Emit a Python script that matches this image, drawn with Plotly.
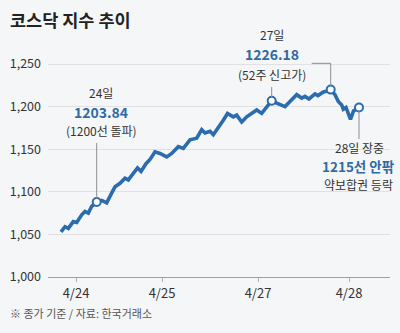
import plotly.graph_objects as go

# x position along the session axis (arbitrary units)
x_pos = [13, 17, 20.3, 25.3, 28.7, 33.7, 37, 40.3, 43.7, 48.7, 53.7, 58.7, 63, 67, 72, 77, 80.3,
         85, 89.5, 93, 98, 102, 107, 112, 118.7, 123.7, 130.3, 135.3, 142, 148.7, 153.7, 157,
         162, 165.3, 170.3, 175.3, 179.5, 185.3, 188.7, 193.7, 198.7, 205.3, 208.7, 213.7,
         218.7, 223.7, 228.7, 237, 242, 248.7, 253.7, 257, 261, 267, 270, 275, 278, 282.7,
         287, 290.3, 293.7, 295.3, 298, 300.3, 302.5, 305.5, 311]
kosdaq = [1053, 1059, 1057, 1065, 1064, 1073, 1077, 1075, 1083, 1088, 1090, 1087, 1097,
          1106, 1110, 1116, 1114, 1122, 1128, 1124, 1133, 1138, 1147, 1145, 1141, 1145, 1153,
          1151, 1161, 1163, 1173, 1169, 1171, 1167, 1175, 1184, 1192, 1188, 1190, 1182, 1188,
          1194, 1196, 1192, 1200, 1207, 1204, 1200, 1206, 1214, 1210, 1212, 1209, 1215, 1213,
          1217, 1218, 1220, 1214, 1206, 1202, 1197, 1199, 1193, 1185, 1195, 1199]
highlight_idx = [9, 45, 57, 66]
tick_pos = [28, 114, 210, 301]
tick_text = ["4/24", "4/25", "4/27", "4/28"]
y_ticks = [1000, 1050, 1100, 1150, 1200, 1250]

BLUE = "#2b6cae"
TXT_BLUE = "#2f6aa5"
DARK = "#333333"
FONT = "Noto Sans CJK KR"

fig = go.Figure()
fig.add_trace(go.Scatter(x=x_pos, y=kosdaq, mode="lines",
                         line=dict(color=BLUE, width=3.6), hoverinfo="skip"))
fig.add_trace(go.Scatter(x=[x_pos[i] for i in highlight_idx],
                         y=[kosdaq[i] for i in highlight_idx], mode="markers",
                         marker=dict(size=8, color="white", line=dict(color=BLUE, width=2)),
                         hoverinfo="skip"))

def pv(py):
    # convert a layout pixel height to value units for connector ends
    return 1000 + (277 - py) / 0.852

xa, xb, xc, xd = [x_pos[i] for i in highlight_idx]
ya, yb, yc, yd = [kosdaq[i] for i in highlight_idx]
LC = "#8a8f96"
shapes = [
    dict(type="line", x0=xa, x1=xa, y0=ya + 4, y1=pv(143), line=dict(color=LC, width=1)),
    dict(type="line", x0=xb, x1=xb, y0=yb + 4, y1=pv(87), line=dict(color=LC, width=1)),
    dict(type="path", path=f"M {263.7},{pv(63.3)} L {xc},{pv(63.3)} L {xc},{yc + 4}",
         line=dict(color=LC, width=1)),
    dict(type="line", x0=xd, x1=xd, y0=yd - 4, y1=pv(139), line=dict(color=LC, width=1)),
]

# paper spans pixels 47..277 vertically, 48..390 horizontally
def px2paper(px, py):
    return (px - 48) / 342, (277 - py) / 230

anns = []
def lab(x, py, text, size=12, color=DARK, bold=False):
    t = f"<b>{text}</b>" if bold else text
    _, yp = px2paper(0, py)
    anns.append(dict(x=x / 342, y=yp, xref="paper", yref="paper", text=t, showarrow=False,
                     font=dict(family=FONT, size=size, color=color),
                     xanchor="center", yanchor="middle"))

lab(53, 92, "24일")
lab(53, 112, "1203.84", size=14, color=TXT_BLUE, bold=True)
lab(53, 130, "(1200선 돌파)")
lab(223.5, 34, "27일")
lab(224, 54, "1226.18", size=14, color=TXT_BLUE, bold=True)
lab(224, 74, "(52주 신고가)")
lab(311, 147, "28일 장중")
lab(310, 166, "1215선 안팎", size=13.5, color=TXT_BLUE, bold=True)
lab(310, 184, "약보합권 등락")

tx, ty = px2paper(8, 19)
fx, fy = px2paper(8, 313)
anns.append(dict(x=tx, y=ty, xref="paper", yref="paper", text="<b>코스닥 지수 추이</b>",
                 showarrow=False, font=dict(family=FONT, size=17.5, color="#222"),
                 xanchor="left", yanchor="middle"))
anns.append(dict(x=fx, y=fy, xref="paper", yref="paper", text="※ 종가 기준 / 자료: 한국거래소",
                 showarrow=False, font=dict(family=FONT, size=11, color="#555"),
                 xanchor="left", yanchor="middle"))

fig.update_layout(
    width=400, height=333,
    margin=dict(l=48, r=10, t=47, b=56),
    paper_bgcolor="#f5f6f8", plot_bgcolor="#f5f6f8",
    showlegend=False,
    shapes=shapes,
    annotations=anns,
    xaxis=dict(range=[0, 342], tickvals=tick_pos, ticktext=tick_text, showgrid=False,
               zeroline=False, showline=True, linecolor="#a0a0a0", linewidth=1,
               ticks="outside", ticklen=4, tickcolor="#b0b0b0",
               tickfont=dict(family=FONT, size=13, color="#333"), fixedrange=True),
    yaxis=dict(range=[1000, 1270], tickvals=y_ticks, tickformat=",", showgrid=True,
               gridcolor="#dfe1e4", gridwidth=1, zeroline=False, showline=False,
               ticks="", ticklabelstandoff=6,
               tickfont=dict(family=FONT, size=12.5, color="#333"), fixedrange=True),
    font=dict(family=FONT),
)
fig.write_html("out.html")
